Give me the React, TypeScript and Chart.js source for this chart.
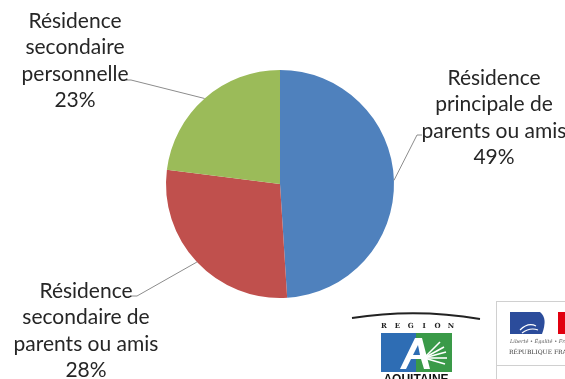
import React, { useEffect, useRef } from "react";
import { Chart, registerables } from "chart.js";

Chart.register(...registerables);

const categories = [
  "Résidence principale de parents ou amis",
  "Résidence secondaire de parents ou amis",
  "Résidence secondaire personnelle",
];
const values = [49, 28, 23];
const labelLines = [
  ["Résidence", "principale de", "parents ou amis"],
  ["Résidence", "secondaire de", "parents ou amis"],
  ["Résidence", "secondaire", "personnelle"],
];
const colors = ["#4F81BD", "#C0504D", "#9BBB59"];

// label layout: centre x, first line centre y, elbow points of the leader line (label side first)
const labelLayout = [
  { cx: 494, y0: 78, elbow: [[422, 135], [417, 135]] },
  { cx: 86, y0: 291, elbow: [[131, 296], [137, 296]] },
  { cx: 75, y0: 21, elbow: [[126, 80], [131, 80]] },
];
const LINE_H = 26.4;
const FONT = "21px Lato, 'Open Sans', sans-serif";

function drawLogos(ctx: CanvasRenderingContext2D) {
  ctx.save();
  // Région Aquitaine swoosh
  ctx.strokeStyle = "#222";
  ctx.lineWidth = 1.8;
  ctx.beginPath();
  ctx.moveTo(352, 318);
  ctx.quadraticCurveTo(416, 308, 480, 319);
  ctx.stroke();
  // REGION letters
  ctx.fillStyle = "#222";
  ctx.font = "bold 7px 'DejaVu Serif', serif";
  ctx.textAlign = "center";
  ctx.textBaseline = "middle";
  const letters = ["R", "E", "G", "I", "O", "N"];
  letters.forEach((l, i) => ctx.fillText(l, 384 + i * 13.4, 326));
  // square
  ctx.fillStyle = "#2E6DB4";
  ctx.fillRect(381, 333, 35, 39);
  ctx.fillStyle = "#3A9A48";
  ctx.fillRect(416, 333, 36, 39);
  // white A
  ctx.fillStyle = "#fff";
  ctx.beginPath();
  ctx.moveTo(400, 369);
  ctx.lineTo(415, 338);
  ctx.lineTo(422, 338);
  ctx.lineTo(430, 369);
  ctx.lineTo(424, 369);
  ctx.lineTo(421, 359);
  ctx.lineTo(411, 359);
  ctx.lineTo(406, 369);
  ctx.closePath();
  ctx.fill();
  ctx.fillStyle = "#2E6DB4";
  ctx.beginPath();
  ctx.moveTo(413, 355);
  ctx.lineTo(418, 345);
  ctx.lineTo(420, 355);
  ctx.closePath();
  ctx.fill();
  // fan stripes
  ctx.strokeStyle = "#fff";
  ctx.lineWidth = 1.6;
  const fan = [
    [440, 342],
    [444, 347],
    [446, 352],
    [447, 358],
    [445, 364],
  ];
  fan.forEach(([x, y]) => {
    ctx.beginPath();
    ctx.moveTo(424, 358);
    ctx.lineTo(x, y);
    ctx.stroke();
  });
  // AQUITAINE
  ctx.fillStyle = "#111";
  ctx.font = "bold 12px 'Liberation Sans', Arial, sans-serif";
  ctx.textBaseline = "top";
  ctx.fillText("AQUITAINE", 416, 374);

  // République Française block
  ctx.strokeStyle = "#d0d0d0";
  ctx.lineWidth = 1;
  ctx.beginPath();
  ctx.moveTo(496.5, 301);
  ctx.lineTo(496.5, 379);
  ctx.moveTo(496, 301.5);
  ctx.lineTo(565, 301.5);
  ctx.moveTo(496, 365.5);
  ctx.lineTo(565, 365.5);
  ctx.stroke();
  // flag
  ctx.fillStyle = "#2B4C9B";
  ctx.fillRect(510, 312, 30, 22);
  ctx.beginPath();
  ctx.moveTo(540, 312);
  ctx.quadraticCurveTo(548, 318, 542, 334);
  ctx.lineTo(540, 334);
  ctx.closePath();
  ctx.fill();
  ctx.fillStyle = "#E1000F";
  ctx.fillRect(558, 312, 7, 22);
  ctx.strokeStyle = "#fff";
  ctx.lineWidth = 1.2;
  ctx.beginPath();
  ctx.moveTo(520, 330);
  ctx.quadraticCurveTo(528, 322, 536, 326);
  ctx.moveTo(522, 333);
  ctx.quadraticCurveTo(530, 327, 538, 330);
  ctx.stroke();
  ctx.fillStyle = "#555";
  ctx.textAlign = "left";
  ctx.textBaseline = "middle";
  ctx.font = "italic 5px 'DejaVu Serif', serif";
  ctx.fillText("Liberté • Égalité • Fraternité", 510, 342);
  ctx.fillStyle = "#333";
  ctx.font = "6px 'DejaVu Serif', serif";
  ctx.fillText("RÉPUBLIQUE FRANÇAISE", 509, 352);
  ctx.restore();
}

const labelPlugin = {
  id: "outsideLabels",
  afterDraw(chart: any) {
    const ctx: CanvasRenderingContext2D = chart.ctx;
    const meta = chart.getDatasetMeta(0);
    const total = values.reduce((a, b) => a + b, 0);
    ctx.save();
    meta.data.forEach((arc: any, i: number) => {
      const p = arc.getProps(["x", "y", "startAngle", "endAngle", "outerRadius"], true);
      const mid = (p.startAngle + p.endAngle) / 2;
      const ax = p.x + Math.cos(mid) * p.outerRadius;
      const ay = p.y + Math.sin(mid) * p.outerRadius;
      const lay = labelLayout[i];
      // leader line
      ctx.strokeStyle = "#8c8c8c";
      ctx.lineWidth = 1;
      ctx.beginPath();
      ctx.moveTo(lay.elbow[0][0], lay.elbow[0][1]);
      ctx.lineTo(lay.elbow[1][0], lay.elbow[1][1]);
      ctx.lineTo(ax, ay);
      ctx.stroke();
      // text
      ctx.fillStyle = "#262626";
      ctx.font = FONT;
      ctx.textAlign = "center";
      ctx.textBaseline = "middle";
      const pct = Math.round((values[i] / total) * 100) + "%";
      const lines = [...labelLines[i], pct];
      lines.forEach((t, k) => ctx.fillText(t, lay.cx, lay.y0 + k * LINE_H));
    });
    ctx.restore();
    drawLogos(ctx);
  },
};

export default function App() {
  const ref = useRef<HTMLCanvasElement | null>(null);
  useEffect(() => {
    if (!ref.current) return;
    const chart = new Chart(ref.current, {
      type: "pie",
      data: {
        labels: categories,
        datasets: [
          {
            data: values,
            backgroundColor: colors,
            borderWidth: 0,
          },
        ],
      },
      options: {
        responsive: false,
        animation: false,
        layout: { padding: { left: 166, right: 171, top: 70, bottom: 81 } },
        plugins: {
          legend: { display: false },
          tooltip: { enabled: false },
        },
      },
      plugins: [labelPlugin],
    });
    return () => chart.destroy();
  }, []);
  return (
    <div style={{ position: "fixed", left: 0, top: 0, width: 565, height: 379, background: "#fff" }}>
      <canvas ref={ref} width={565} height={379} style={{ width: 565, height: 379 }} />
    </div>
  );
}
